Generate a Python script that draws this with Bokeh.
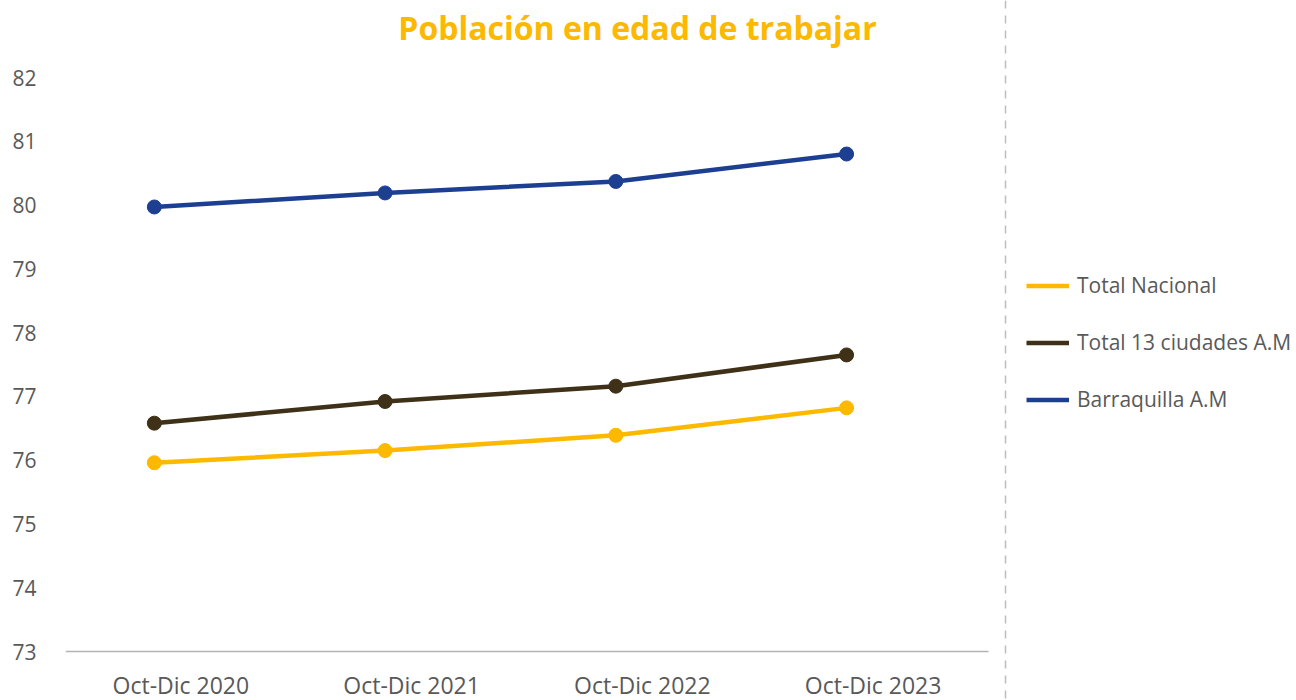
from bokeh.plotting import figure
from bokeh.models import ColumnDataSource, Range1d, Legend, LegendItem, Label, FixedTicker, Span
from bokeh.transform import dodge
from bokeh.core.properties import value
from bokeh.embed import file_html
from bokeh.resources import INLINE

categories = ["Oct-Dic 2020", "Oct-Dic 2021", "Oct-Dic 2022", "Oct-Dic 2023"]
total_nacional = [75.96, 76.15, 76.39, 76.82]
total_13_ciudades = [76.58, 76.92, 77.16, 77.65]
barranquilla = [79.97, 80.19, 80.37, 80.80]
series_names = ["Total Nacional", "Total 13 ciudades A.M", "Barraquilla A.M"]
y_ticks = [73, 74, 75, 76, 77, 78, 79, 80, 81, 82]
title_text = "Población en edad de trabajar"

colors = ["#FDB800", "#3F3118", "#1D3F92"]
FONT = "Open Sans"
GREY = "#595959"

# layout: pixel geometry of the picture -> data ranges
W, H = 1296, 700
FRAME_L = 65                 # frame left (pixels)
AXIS_R = 988                 # end of category axis (pixels)
Y_TOP_PX, Y_BOT_PX = 77, 651 # pixel rows of the highest / lowest tick
n = len(categories)
PX_X = (AXIS_R - FRAME_L) / n
Y_MIN, Y_MAX = y_ticks[0], y_ticks[-1]
PX_Y = (Y_BOT_PX - Y_TOP_PX) / (Y_MAX - Y_MIN)
x_start = -0.5
x_end = x_start + (W - FRAME_L) / PX_X
y_end = Y_MAX + Y_TOP_PX / PX_Y
y_start = Y_MIN - (H - Y_BOT_PX) / PX_Y


def ypix(py):
    return y_end - py / PX_Y


def xpix(px):
    return x_start + (px - FRAME_L) / PX_X


idx = list(range(n))
src = ColumnDataSource(dict(idx=idx, cat=categories, tn=total_nacional,
                            tc=total_13_ciudades, ba=barranquilla))

p = figure(width=W, height=H, x_range=Range1d(x_start, x_end), y_range=Range1d(y_start, y_end),
           output_backend="svg", toolbar_location=None, x_axis_location=None,
           min_border_left=FRAME_L, min_border_right=0, min_border_top=0, min_border_bottom=0)
p.outline_line_color = None
p.xgrid.grid_line_color = None
p.ygrid.grid_line_color = None
p.background_fill_color = "white"

# category axis baseline
p.segment(x0=[x_start], y0=[Y_MIN], x1=[n - 0.5], y1=[Y_MIN],
          line_color="#B3B3B3", line_width=1.5)

# separator dashed line
p.add_layout(Span(location=xpix(1005), dimension="height",
                  line_color="#BDBDBD", line_width=1.5, line_dash="8 7"))

xd = dodge("idx", -0.115, range=p.x_range)
renderers = []
for col, c in zip(["tn", "tc", "ba"], colors):
    l = p.line(x=xd, y=col, source=src, line_color=c, line_width=4.5)
    p.scatter(x=xd, y=col, source=src, size=14, fill_color=c, line_color=c)
    renderers.append(l)

# category labels
p.text(x="idx", y=ypix(684), text="cat", source=src,
       text_font=value(FONT), text_font_size="23px", text_color=GREY,
       text_align="center", text_baseline="middle")

# y axis
p.yaxis.ticker = FixedTicker(ticks=y_ticks)
p.yaxis.axis_line_color = None
p.yaxis.major_tick_line_color = None
p.yaxis.minor_tick_line_color = None
p.yaxis.major_label_text_font = FONT
p.yaxis.major_label_text_font_size = "21px"
p.yaxis.major_label_text_color = GREY
p.yaxis.major_label_standoff = 23

legend = Legend(items=[LegendItem(label=s, renderers=[r]) for s, r in zip(series_names, renderers)],
                location=(1026 - FRAME_L, int(H - 412.5)), orientation="vertical",
                label_text_font=FONT, label_text_font_size="21px", label_text_color=GREY,
                glyph_width=43, glyph_height=27, label_height=27, spacing=29,
                padding=0, margin=0, border_line_color=None, background_fill_alpha=0,
                label_standoff=8)
p.add_layout(legend, "center")

p.add_layout(Label(x=xpix(637), y=ypix(27), text=title_text,
                   text_font=FONT, text_font_size="32px", text_font_style="bold",
                   text_color="#FDB800", text_align="center", text_baseline="middle"))

open("out.html", "w").write(file_html(p, INLINE))
